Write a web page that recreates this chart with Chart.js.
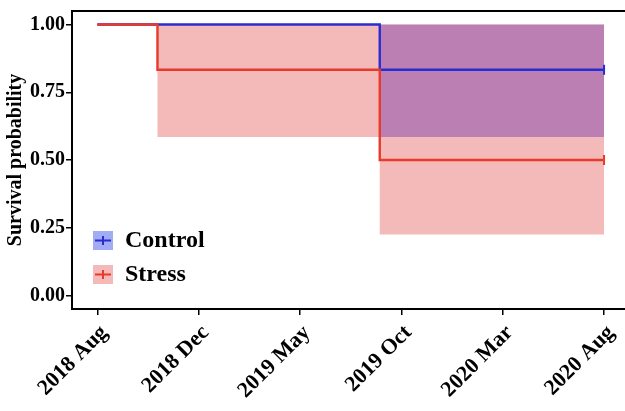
<!DOCTYPE html>
<html>
<head>
<meta charset="utf-8">
<script src="https://cdn.jsdelivr.net/npm/chart.js@4.4.1/dist/chart.umd.min.js"></script>
<style>
  html, body { margin: 0; padding: 0; background: #fff; overflow: hidden; }
  #wrap { width: 625px; height: 411px; position: relative; }
</style>
</head>
<body>
<div id="wrap"><canvas id="km"></canvas></div>
<script>
// 数据：横轴为自 2018 Aug 起的天数
const dayTicks = [0, 150, 300, 450, 600, 750];
const tickLabels = ['2018 Aug', '2018 Dec', '2019 May', '2019 Oct', '2020 Mar', '2020 Aug'];
const yTicks = [0, 0.25, 0.5, 0.75, 1];

const controlDays = [0, 418, 750];
const controlSurv = [1, 0.833, 0.833];
const controlUpper = [1, 1, 1];
const controlLower = [1, 0.585, 0.585];

const stressDays = [0, 89, 418, 750];
const stressSurv = [1, 0.833, 0.5, 0.5];
const stressUpper = [1, 1, 1, 1];
const stressLower = [1, 0.585, 0.225, 0.225];

const groupNames = ['Control', 'Stress'];

const RED = 'rgb(232,58,42)';
const BLUE = 'rgb(40,45,210)';
const RED_FILL = 'rgba(226,70,70,0.38)';
const BLUE_FILL = 'rgba(110,48,172,0.42)';
const SERIF = "'Liberation Serif', 'DejaVu Serif', serif";

function pts(xs, ys) {
    return xs.map((x, i) => ({ x: x, y: ys[i] }));
}

// 只在最后一点画删失标记
function censorRadius(ctx) {
    return ctx.dataIndex === ctx.dataset.data.length - 1 ? 5 : 0;
}

function noPad(s) {
    s.paddingLeft = 0;
    s.paddingRight = 0;
    s.paddingTop = 0;
    s.paddingBottom = 0;
}

// 顶部边框和图例
const framePlugin = {
    id: 'frame',
    afterDraw(chart) {
        const c = chart.ctx;
        const a = chart.chartArea;
        c.save();
        c.strokeStyle = '#000';
        c.lineWidth = 2;
        c.beginPath();
        c.moveTo(a.left - 1, a.top);
        c.lineTo(a.right, a.top);
        c.stroke();

        const items = [
            { name: groupNames[0], fill: 'rgba(70,90,235,0.5)', line: BLUE, y: 240 },
            { name: groupNames[1], fill: RED_FILL, line: RED, y: 274 }
        ];
        items.forEach(it => {
            c.fillStyle = it.fill;
            c.fillRect(93, it.y - 9, 20, 19);
            c.strokeStyle = it.line;
            c.lineWidth = 2;
            c.beginPath();
            c.moveTo(95, it.y + 0.5);
            c.lineTo(111, it.y + 0.5);
            c.moveTo(103, it.y - 4);
            c.lineTo(103, it.y + 5);
            c.stroke();
            c.fillStyle = '#000';
            c.font = 'bold 24px ' + SERIF;
            c.textBaseline = 'middle';
            c.fillText(it.name, 125, it.y + 1);
        });
        c.restore();
    }
};

new Chart(document.getElementById('km'), {
    type: 'line',
    data: {
        datasets: [
            // order 小的画在上层：线在带之上，Stress 线压住 Control 线
            { label: 'controlUpper', order: 2, data: pts(controlDays, controlUpper), stepped: 'before', borderWidth: 0, pointRadius: 0, fill: false },
            { label: 'controlLower', order: 2, data: pts(controlDays, controlLower), stepped: 'before', borderWidth: 0, pointRadius: 0, fill: '-1', backgroundColor: BLUE_FILL },
            { label: 'stressUpper', order: 3, data: pts(stressDays, stressUpper), stepped: 'before', borderWidth: 0, pointRadius: 0, fill: false },
            { label: 'stressLower', order: 3, data: pts(stressDays, stressLower), stepped: 'before', borderWidth: 0, pointRadius: 0, fill: '-1', backgroundColor: RED_FILL },
            { label: groupNames[1], order: 0, data: pts(stressDays, stressSurv), stepped: 'before', borderColor: RED, borderWidth: 2.4, fill: false,
              pointStyle: 'line', pointRotation: 90, pointRadius: censorRadius, pointBorderColor: RED, pointBorderWidth: 2 },
            { label: groupNames[0], order: 1, data: pts(controlDays, controlSurv), stepped: 'before', borderColor: BLUE, borderWidth: 2.4, fill: false,
              pointStyle: 'line', pointRotation: 90, pointRadius: censorRadius, pointBorderColor: BLUE, pointBorderWidth: 2 }
        ]
    },
    options: {
        responsive: true,
        maintainAspectRatio: false,
        animation: false,
        layout: { autoPadding: false, padding: { top: 11, right: 0, left: 0, bottom: 0 } },
        plugins: { legend: { display: false }, tooltip: { enabled: false } },
        scales: {
            x: {
                type: 'linear',
                min: -37.5,
                max: 781,
                afterBuildTicks: s => { s.ticks = dayTicks.map(v => ({ value: v })); },
                afterFit: s => { s.height = 102; noPad(s); },
                ticks: {
                    minRotation: 45,
                    maxRotation: 45,
                    color: '#000',
                    padding: 5,
                    labelOffset: 7,
                    font: { family: SERIF, size: 22, weight: 'bold' },
                    callback: v => tickLabels[dayTicks.indexOf(v)]
                },
                grid: { drawOnChartArea: false, drawTicks: true, tickLength: 6, color: '#000', lineWidth: 1.5 },
                border: { display: true, color: '#000', width: 2 }
            },
            y: {
                min: -0.05,
                max: 1.05,
                afterBuildTicks: s => { s.ticks = yTicks.map(v => ({ value: v })); },
                afterFit: s => { s.width = 72; noPad(s); },
                title: {
                    display: true,
                    text: 'Survival probability',
                    color: '#000',
                    padding: { top: 4, bottom: 0 },
                    font: { family: SERIF, size: 20, weight: 'bold' }
                },
                ticks: {
                    color: '#000',
                    padding: 1,
                    font: { family: SERIF, size: 20, weight: 'bold' },
                    callback: v => v.toFixed(2)
                },
                grid: { drawOnChartArea: false, drawTicks: true, tickLength: 6, color: '#000', lineWidth: 1.5 },
                border: { display: true, color: '#000', width: 2 }
            }
        }
    },
    plugins: [framePlugin]
});
</script>
</body>
</html>
